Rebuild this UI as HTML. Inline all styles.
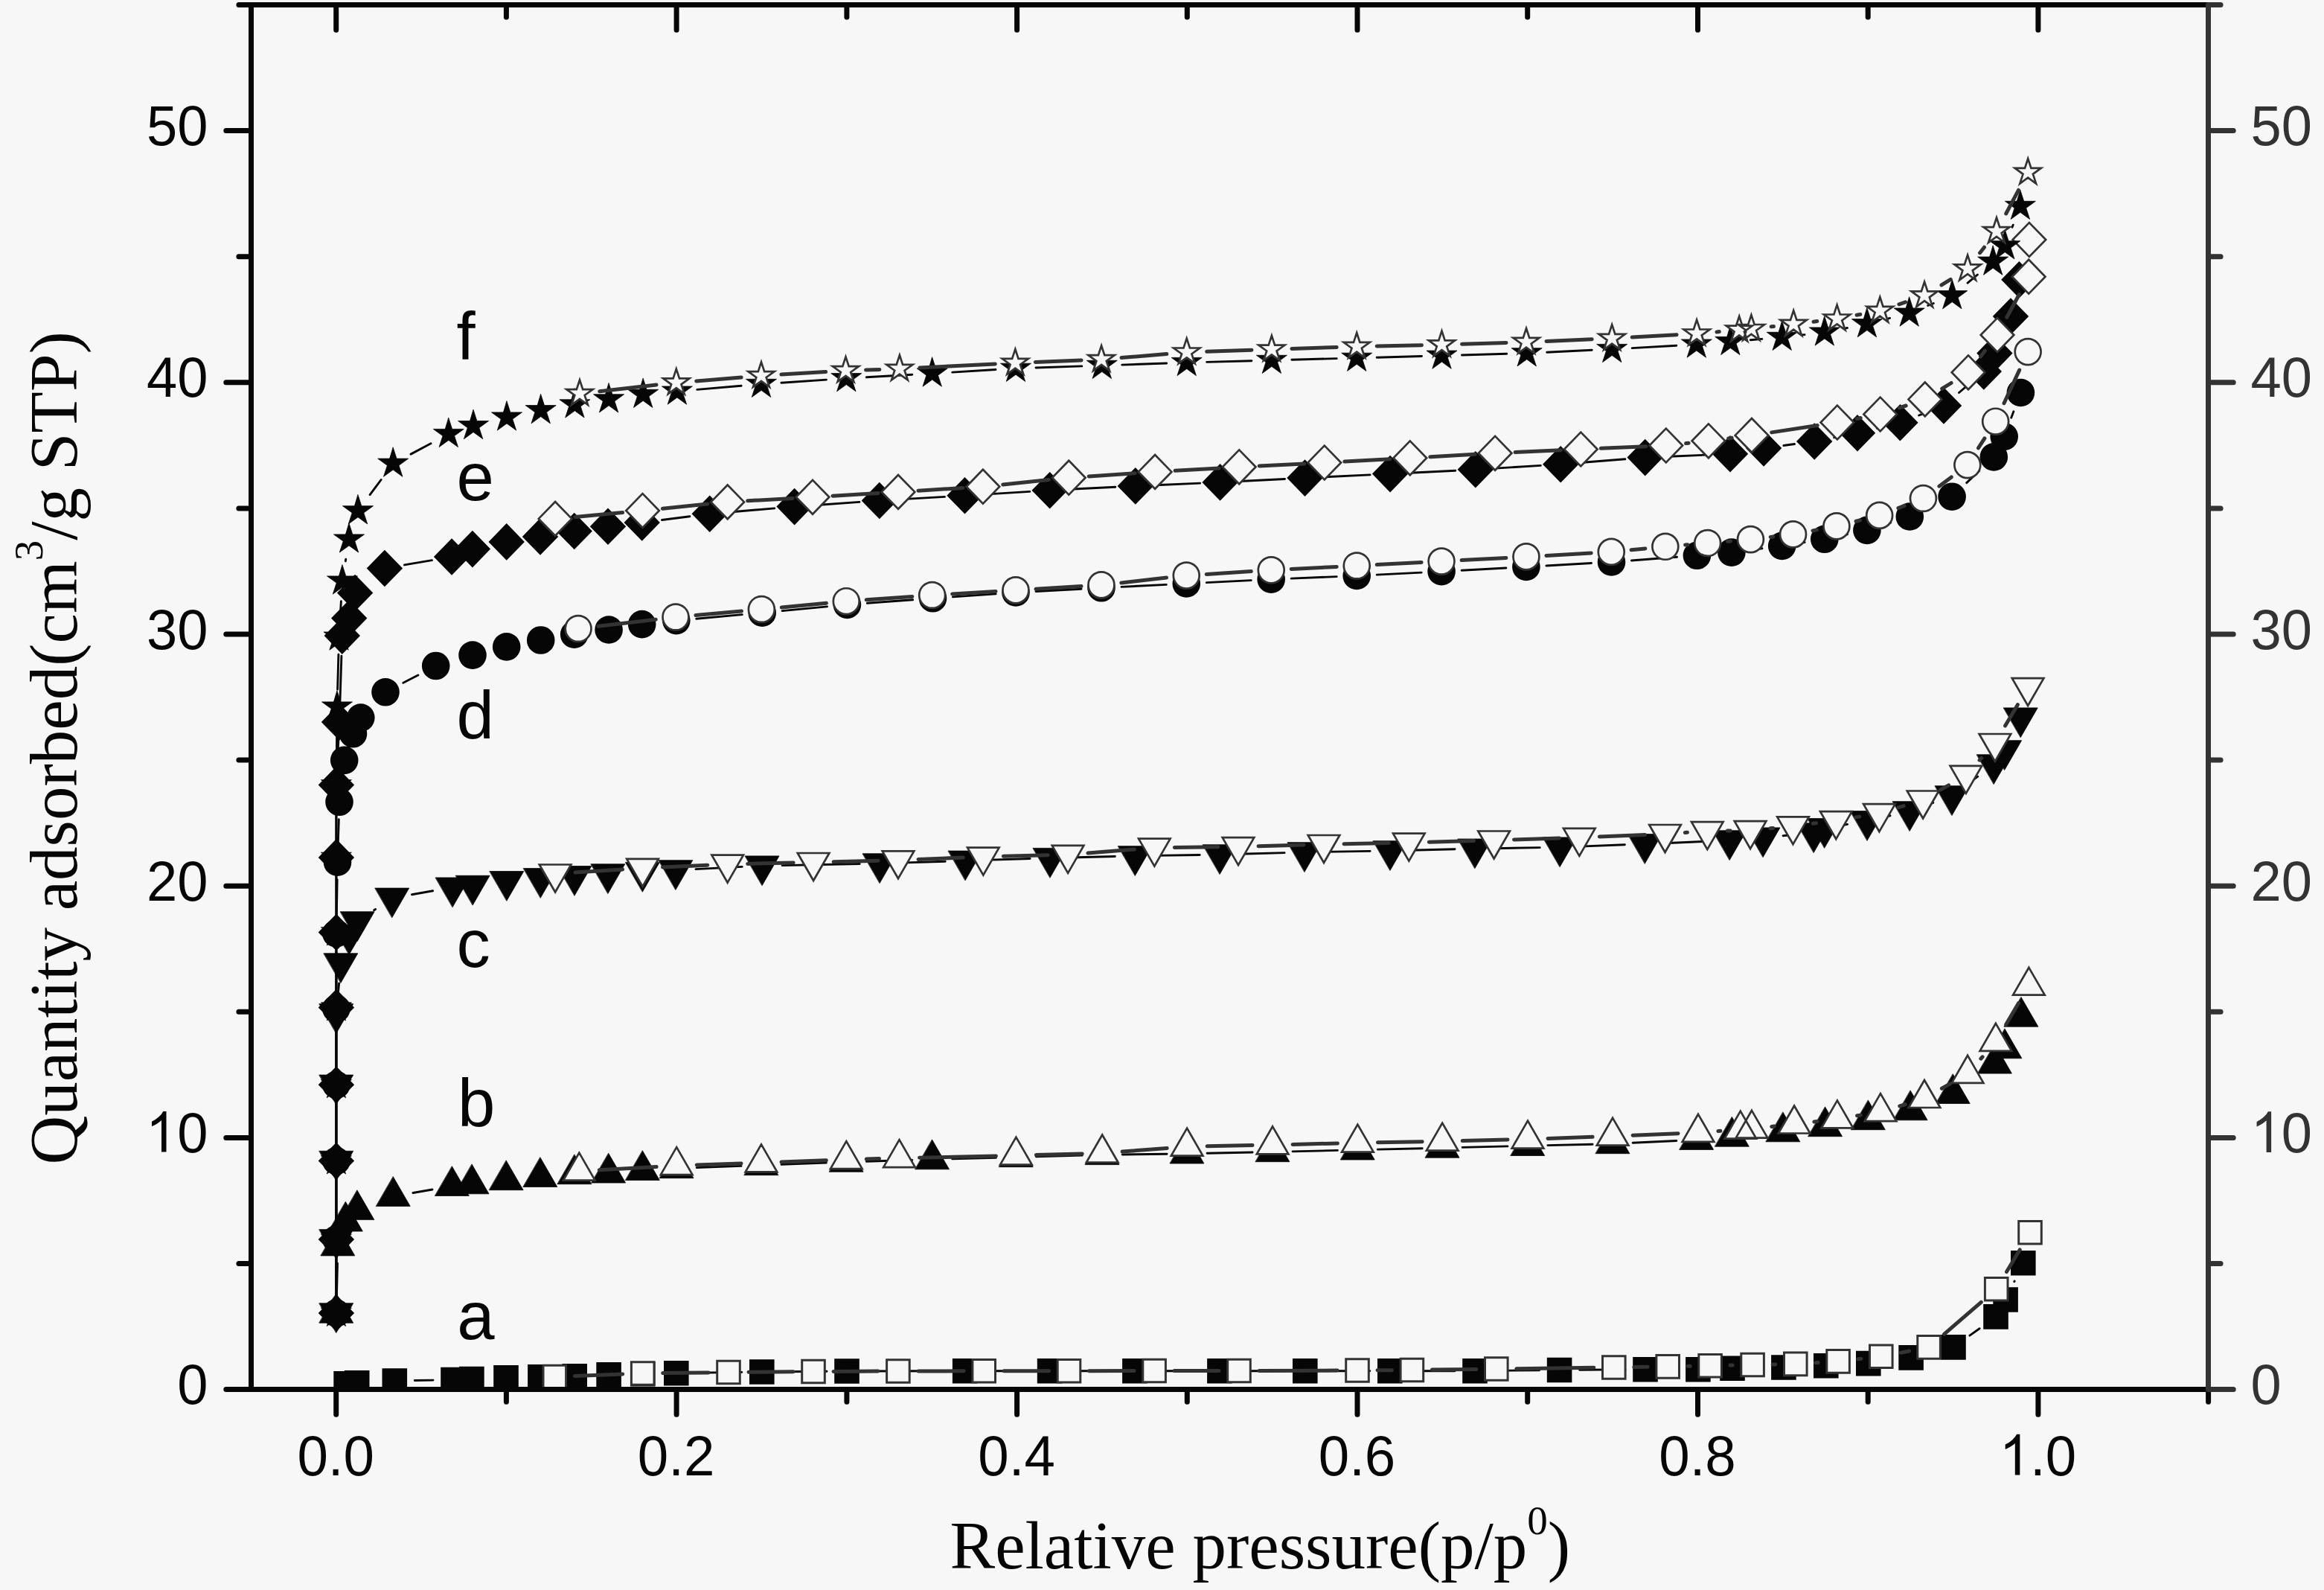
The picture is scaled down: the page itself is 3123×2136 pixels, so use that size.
<!DOCTYPE html>
<html><head><meta charset="utf-8"><title>Adsorption isotherms</title>
<style>html,body{margin:0;padding:0;background:#f7f7f7;}svg{display:block;}</style></head>
<body>
<svg width="3123" height="2136" viewBox="0 0 3123 2136">
<rect width="3123" height="2136" fill="#f7f7f7"/>
<defs><clipPath id="pc"><rect x="337.5" y="6.5" width="2630.0" height="1860.1"/></clipPath></defs>
<g clip-path="url(#pc)" stroke-linecap="round" stroke-linejoin="miter" stroke-miterlimit="10">
<path d="M557.3 1854.5L582 1854.1M935.8 1844.3L996.8 1843.4M1050.8 1842.8L1111 1842.2M1165 1842L1269.7 1841.8M1323.7 1841.8L1383.6 1841.8M1437.6 1841.8L1497.9 1841.8M1551.9 1841.8L1611.9 1841.8M1665.9 1841.8L1726.8 1841.8M1780.8 1841.8L1840.8 1841.8M1894.8 1841.8L1955 1841.7M2009 1841.4L2068.6 1840.8M2122.6 1840.3L2184 1839.9M2238 1839.7L2254.9 1839.7M2355 1837.7L2369.9 1837.5M2423.9 1835.9L2426.8 1835.8M2480.8 1833.2L2483.8 1833.1M2537.6 1828L2541.3 1827.5M2594.3 1817.4L2598.8 1816.4M2646.9 1794.1L2660.1 1784.7M2706.8 1721.7L2707.1 1721.1" stroke="#060606" stroke-width="2.9" fill="none"/>
<path d="M448.3 1842h33.6v33.6h-33.6ZM462.9 1841h33.6v33.6h-33.6ZM513.5 1838.2h33.6v33.6h-33.6ZM592.2 1836.8h33.6v33.6h-33.6ZM617.1 1835.8h33.6v33.6h-33.6ZM663.2 1834.1h33.6v33.6h-33.6ZM709.1 1833.1h33.6v33.6h-33.6ZM755.4 1832h33.6v33.6h-33.6ZM801.3 1829.9h33.6v33.6h-33.6ZM847 1828.9h33.6v33.6h-33.6ZM892 1827.9h33.6v33.6h-33.6ZM1007 1826.2h33.6v33.6h-33.6ZM1121.2 1825.2h33.6v33.6h-33.6ZM1279.9 1825h33.6v33.6h-33.6ZM1393.8 1825h33.6v33.6h-33.6ZM1508.1 1825h33.6v33.6h-33.6ZM1622.1 1825h33.6v33.6h-33.6ZM1737 1825h33.6v33.6h-33.6ZM1851 1825h33.6v33.6h-33.6ZM1965.2 1824.9h33.6v33.6h-33.6ZM2078.8 1823.7h33.6v33.6h-33.6ZM2194.2 1822.9h33.6v33.6h-33.6ZM2265.1 1822.9h33.6v33.6h-33.6ZM2311.2 1821.4h33.6v33.6h-33.6ZM2380.1 1820.2h33.6v33.6h-33.6ZM2437 1817.9h33.6v33.6h-33.6ZM2494 1814.8h33.6v33.6h-33.6ZM2551.3 1807.1h33.6v33.6h-33.6ZM2608.2 1793.1h33.6v33.6h-33.6ZM2665.2 1752.1h33.6v33.6h-33.6ZM2678.3 1729.2h33.6v33.6h-33.6ZM2702 1680h33.6v33.6h-33.6Z" fill="#060606" stroke="#060606" stroke-width="0"/>
<path d="M2714.2 1679L2696.5 1708.5M2662.3 1749.3L2612.5 1792.3M2565.6 1815L2554.3 1817.2M2501 1825.4L2496.9 1825.8M2443.2 1830.5L2439.7 1830.8M2385.8 1832.9L2382.1 1833M2328.1 1834.1L2325.1 1834.1M2271.1 1835.3L2268.2 1835.3M2214.2 1836.3L2195.8 1836.6M2141.8 1837.3L2037.8 1838.7M1983.8 1839.4L1924.4 1840.1M1870.4 1840.7L1851 1840.8M1797 1841.1L1692 1841.4M1638 1841.5L1578.1 1841.5M1524.1 1841.6L1463.5 1841.7M1409.5 1841.8L1349.2 1841.8M1295.2 1841.8L1233.9 1842M1179.9 1842.1L1120 1842.4M1066 1842.7L1006 1843.3M952 1843.9L890.7 1844.6M836.7 1846L772.3 1848.5" stroke="#333333" stroke-width="5.0" fill="none"/>
<path d="M2712.7 1640.5h30.6v30.6h-30.6ZM2667.4 1716.4h30.6v30.6h-30.6ZM2576.8 1794.6h30.6v30.6h-30.6ZM2512.5 1807h30.6v30.6h-30.6ZM2454.8 1813.6h30.6v30.6h-30.6ZM2397.5 1817.1h30.6v30.6h-30.6ZM2339.8 1818.2h30.6v30.6h-30.6ZM2282.8 1819.4h30.6v30.6h-30.6ZM2225.9 1820.6h30.6v30.6h-30.6ZM2153.5 1821.7h30.6v30.6h-30.6ZM1995.5 1823.7h30.6v30.6h-30.6ZM1882.1 1825.2h30.6v30.6h-30.6ZM1808.7 1825.7h30.6v30.6h-30.6ZM1649.7 1826.2h30.6v30.6h-30.6ZM1535.8 1826.2h30.6v30.6h-30.6ZM1421.2 1826.5h30.6v30.6h-30.6ZM1306.9 1826.5h30.6v30.6h-30.6ZM1191.6 1826.7h30.6v30.6h-30.6ZM1077.7 1827.2h30.6v30.6h-30.6ZM963.7 1828.2h30.6v30.6h-30.6ZM848.4 1829.7h30.6v30.6h-30.6ZM730 1834.2h30.6v30.6h-30.6Z" fill="#f7f7f7" stroke="#333333" stroke-width="3.0"/>
<path d="M452.4 1740.5L453.5 1697.2M555 1602.5L580.9 1598M936.2 1568.6L996 1566.4M1050 1564.4L1110.3 1562.1M1164.3 1560.2L1225.7 1558.4M1279.7 1556.9L1338.4 1555.2M1392.4 1553.8L1454.2 1552.1M1508.2 1551L1568.1 1550.2M1622.1 1549.3L1683.1 1548M1737.1 1546.9L1797.4 1545.4M1851.4 1544.1L1911.2 1542.7M1965.2 1541.4L2025.9 1539.9M2079.9 1538.6L2140.1 1537.2M2194.1 1535.2L2252.8 1532.5M2354.4 1524.5L2369.1 1523.1M2422.8 1517.2L2425.9 1516.9M2479.4 1509.3L2483.8 1508.7M2536.8 1498.5L2541 1497.6M2592.5 1481.8L2599.2 1479.1M2646.3 1453.5L2658.7 1444.7" stroke="#060606" stroke-width="2.9" fill="none"/>
<path d="M451.9 1737.7L474.7 1777.2L429.1 1777.2ZM454 1647.4L476.8 1686.9L431.2 1686.9ZM464.5 1614.6L487.3 1654.1L441.7 1654.1ZM480 1599.1L502.8 1638.6L457.2 1638.6ZM528.4 1580.9L551.2 1620.4L505.6 1620.4ZM607.5 1567L630.3 1606.5L584.7 1606.5ZM634.2 1564.2L657 1603.8L611.4 1603.8ZM680.3 1559.2L703.1 1598.7L657.5 1598.7ZM726 1555L748.8 1594.5L703.2 1594.5ZM772 1551.2L794.8 1590.7L749.2 1590.7ZM817.8 1549.5L840.6 1589L795 1589ZM863.5 1546L886.3 1585.5L840.7 1585.5ZM909.2 1543.2L932 1582.7L886.4 1582.7ZM1023 1539.2L1045.8 1578.7L1000.2 1578.7ZM1137.3 1534.7L1160.1 1574.2L1114.5 1574.2ZM1252.7 1531.2L1275.5 1570.8L1229.9 1570.8ZM1365.4 1528.2L1388.2 1567.7L1342.6 1567.7ZM1481.2 1525.1L1504 1564.6L1458.4 1564.6ZM1595.1 1523.5L1617.9 1563L1572.3 1563ZM1710.1 1521.2L1732.9 1560.7L1687.3 1560.7ZM1824.4 1518.5L1847.2 1558L1801.6 1558ZM1938.2 1515.7L1961 1555.2L1915.4 1555.2ZM2052.9 1513L2075.7 1552.5L2030.1 1552.5ZM2167.1 1510.2L2189.9 1549.7L2144.3 1549.7ZM2279.8 1504.9L2302.6 1544.4L2257 1544.4ZM2327.5 1500.7L2350.3 1540.2L2304.7 1540.2ZM2396 1494.2L2418.8 1533.8L2373.2 1533.8ZM2452.7 1487.2L2475.5 1526.7L2429.9 1526.7ZM2510.5 1478.2L2533.3 1517.7L2487.7 1517.7ZM2567.3 1465.2L2590.1 1504.8L2544.5 1504.8ZM2624.4 1443L2647.2 1482.5L2601.6 1482.5ZM2680.6 1402.6L2703.4 1442.1L2657.8 1442.1ZM2694.1 1382.2L2716.9 1421.8L2671.3 1421.8ZM2716.1 1339.7L2738.9 1379.2L2693.3 1379.2Z" fill="#060606" stroke="#060606" stroke-width="0.8"/>
<path d="M2712.6 1347.6L2695.7 1376.3M2664.1 1419.8L2661.9 1422.2M2620.7 1455.9L2609.4 1462.3M2560.2 1483.6L2552.8 1485.9M2500.3 1498.1L2495.6 1498.8M2442.1 1506.4L2437.9 1506.9M2384.3 1513.1L2380.8 1513.5M2311.9 1519.3L2308.9 1519.5M2255 1522.7L2194.1 1525.2M2140.1 1527.3L2080 1529.4M2026 1531L1965.2 1532.6M1911.2 1533.8L1851.4 1534.8M1797.4 1535.9L1737.1 1537.4M1683.1 1538.5L1622.1 1539.8M1568.2 1542.4L1508.1 1547.1M1454.2 1549.9L1392.4 1551.6M1338.4 1552.9L1235.5 1555.3M1181.5 1556.6L1164.3 1557.1M1110.3 1558.8L1050 1561.1M996 1563L936.2 1565M882.2 1567.4L805.3 1571.8" stroke="#333333" stroke-width="5.0" fill="none"/>
<path d="M2726.4 1299.8L2747.7 1336.7L2705.1 1336.7ZM2681.9 1374.8L2703.2 1411.8L2660.6 1411.8ZM2644.1 1417.8L2665.4 1454.8L2622.8 1454.8ZM2586 1451L2607.3 1488L2564.7 1488ZM2527 1469.1L2548.3 1506.1L2505.7 1506.1ZM2468.9 1478.4L2490.2 1515.4L2447.6 1515.4ZM2411.1 1485.5L2432.4 1522.5L2389.8 1522.5ZM2354 1491.8L2375.3 1528.7L2332.7 1528.7ZM2338.8 1492.6L2360.1 1529.6L2317.5 1529.6ZM2282 1496.8L2303.3 1533.8L2260.7 1533.8ZM2167.1 1501.8L2188.4 1538.7L2145.8 1538.7ZM2053 1505.6L2074.3 1542.6L2031.7 1542.6ZM1938.2 1508.6L1959.5 1545.6L1916.9 1545.6ZM1824.4 1510.6L1845.7 1547.6L1803.1 1547.6ZM1710.1 1513.3L1731.4 1550.3L1688.8 1550.3ZM1595.1 1515.6L1616.4 1552.6L1573.8 1552.6ZM1481.2 1524.5L1502.5 1561.5L1459.9 1561.5ZM1365.4 1527.6L1386.7 1564.6L1344.1 1564.6ZM1208.5 1531.2L1229.8 1568.2L1187.2 1568.2ZM1137.3 1533.1L1158.6 1570.1L1116 1570.1ZM1023 1537.4L1044.3 1574.4L1001.7 1574.4ZM909.2 1541.2L930.5 1578.2L887.9 1578.2ZM778.3 1548.6L799.6 1585.6L757 1585.6Z" fill="#f7f7f7" stroke="#333333" stroke-width="2.7"/>
<path d="M451.9 1740.5L451.9 1688.4M451.9 1641.4L451.9 1583M451.9 1536L451.9 1480.8M451.9 1433.8L451.9 1385.3M454.3 1334.9L455.6 1320.9M502.6 1222.8L504.6 1221.5M553.5 1201.7L581.6 1196.8M935 1167.6L997.2 1164.4M1051.2 1162.6L1155.2 1160.5M1209.2 1159.1L1270.2 1157.2M1324.2 1155.4L1384.1 1153.5M1438.1 1152L1498.4 1150.5M1552.4 1149.4L1612.2 1148.5M1666.2 1147.3L1726.1 1145.6M1780.1 1144.4L1841.1 1143.4M1895.1 1142.3L1955 1140.8M2009 1139.7L2069.2 1138.6M2123.2 1137.1L2183.4 1134.8M2237.4 1132.7L2297.3 1130.1M2396.1 1122.7L2410.4 1121.4M2478.4 1108.2L2482.6 1107.4M2535.5 1096.9L2540 1095.8M2591.6 1080.6L2597.8 1078.3M2644.7 1052.8L2657.7 1043.2" stroke="#060606" stroke-width="2.9" fill="none"/>
<path d="M451.9 1790.3L474.7 1750.8L429.1 1750.8ZM451.9 1691.2L474.7 1651.7L429.1 1651.7ZM451.9 1585.8L474.7 1546.3L429.1 1546.3ZM451.9 1483.6L474.7 1444.1L429.1 1444.1ZM451.9 1388.1L474.7 1348.6L429.1 1348.6ZM458 1320.3L480.8 1280.8L435.2 1280.8ZM469.2 1282.3L492 1242.8L446.4 1242.8ZM480.3 1264.3L503.1 1224.8L457.5 1224.8ZM526.9 1232.6L549.7 1193.1L504.1 1193.1ZM608.2 1218.5L631 1179L585.4 1179ZM635.3 1215.8L658.1 1176.3L612.5 1176.3ZM681 1210L703.8 1170.5L658.2 1170.5ZM726.4 1206.1L749.2 1166.6L703.6 1166.6ZM772.1 1203L794.9 1163.5L749.3 1163.5ZM817 1200.3L839.8 1160.8L794.2 1160.8ZM863.5 1197.9L886.3 1158.4L840.7 1158.4ZM908 1195.2L930.8 1155.7L885.2 1155.7ZM1024.2 1189.4L1047 1149.9L1001.4 1149.9ZM1182.2 1186.3L1205 1146.8L1159.4 1146.8ZM1297.2 1182.6L1320 1143.1L1274.4 1143.1ZM1411.1 1178.9L1433.9 1139.4L1388.3 1139.4ZM1525.4 1176.2L1548.2 1136.7L1502.6 1136.7ZM1639.2 1174.3L1662 1134.8L1616.4 1134.8ZM1753.1 1171.2L1775.9 1131.7L1730.3 1131.7ZM1868.1 1169.2L1890.9 1129.7L1845.3 1129.7ZM1982 1166.5L2004.8 1127L1959.2 1127ZM2096.2 1164.4L2119 1124.9L2073.4 1124.9ZM2210.4 1160.1L2233.2 1120.6L2187.6 1120.6ZM2324.3 1155.3L2347.1 1115.8L2301.5 1115.8ZM2369.2 1151.4L2392 1111.9L2346.4 1111.9ZM2437.3 1145.3L2460.1 1105.8L2414.5 1105.8ZM2451.8 1139.1L2474.6 1099.6L2429 1099.6ZM2509.2 1129.1L2532 1089.6L2486.4 1089.6ZM2566.3 1116.2L2589.1 1076.7L2543.5 1076.7ZM2623.1 1095.3L2645.9 1055.8L2600.3 1055.8ZM2679.3 1053.3L2702.1 1013.8L2656.5 1013.8ZM2693.8 1034.3L2716.6 994.8L2671 994.8ZM2715.4 990.5L2738.2 950.9L2692.6 950.9Z" fill="#060606" stroke="#060606" stroke-width="0.8"/>
<path d="M2711.4 946.7L2694.6 975M2662.7 1018.3L2660.1 1021.2M2618.6 1054.8L2607.4 1061.2M2558.2 1082.6L2551.3 1084.7M2498.8 1097.1L2493.9 1097.9M2440.5 1105.8L2436.3 1106.3M2382.6 1112.4L2379 1112.7M2325.1 1115.9L2321.3 1116M2267.4 1118.2L2264.4 1118.5M2210.5 1121.4L2149.3 1124M2095.3 1126L2034.6 1127.9M1980.6 1129.5L1920.3 1131.2M1866.3 1132.5L1806 1133.7M1752 1135L1691 1136.7M1637 1137.8L1578.3 1138.5M1524.4 1141.1L1462 1146M1408.1 1148.8L1348.3 1150.3M1294.3 1152L1234 1154.5M1180 1156.2L1120.1 1157.7M1066.1 1158.9L1004.7 1160.4M950.7 1162.2L890.5 1164.9M836.6 1167.9L773 1172" stroke="#333333" stroke-width="5.0" fill="none"/>
<path d="M2725.1 948L2746.4 911.1L2703.8 911.1ZM2680.9 1022.9L2702.2 986L2659.6 986ZM2641.9 1065.9L2663.2 1028.9L2620.6 1028.9ZM2584.1 1099.5L2605.4 1062.5L2562.8 1062.5ZM2525.4 1117.2L2546.7 1080.2L2504.1 1080.2ZM2467.3 1127.2L2488.6 1090.2L2446 1090.2ZM2409.5 1134.2L2430.8 1097.3L2388.2 1097.3ZM2352.1 1140.2L2373.4 1103.2L2330.8 1103.2ZM2294.3 1141.1L2315.6 1104.1L2273 1104.1ZM2237.5 1145L2258.8 1108L2216.2 1108ZM2122.3 1149.8L2143.6 1112.8L2101 1112.8ZM2007.6 1153.5L2028.9 1116.5L1986.3 1116.5ZM1893.3 1156.6L1914.6 1119.6L1872 1119.6ZM1779 1159L1800.3 1122L1757.7 1122ZM1664 1162.1L1685.3 1125.1L1642.7 1125.1ZM1551.3 1163.6L1572.6 1126.6L1530 1126.6ZM1435.1 1172.9L1456.4 1135.9L1413.8 1135.9ZM1321.3 1175.6L1342.6 1138.6L1300 1138.6ZM1207 1180.2L1228.3 1143.3L1185.7 1143.3ZM1093.1 1183L1114.4 1146L1071.8 1146ZM977.7 1185.7L999 1148.7L956.4 1148.7ZM863.5 1190.8L884.8 1153.8L842.2 1153.8ZM746.1 1198.5L767.4 1161.5L724.8 1161.5Z" fill="#f7f7f7" stroke="#333333" stroke-width="2.7"/>
<path d="M451.9 1740.5L451.9 1688.4M451.9 1641.4L451.9 1583M451.9 1536L451.9 1480.8M451.9 1433.8L451.9 1378.5M451.9 1331.5L451.9 1277.5M452.3 1230.5L453.1 1181.7M454.2 1134.7L455.3 1100.8M459.2 1050.5L459.5 1048.2M541.9 917.3L561.8 907M935.7 831.2L997.3 825.6M1051.1 820.6L1111.5 814.9M1165.3 810.3L1226.6 805.8M1280.4 801.9L1338.1 797.9M1392 794.5L1453 791.3M1507 788.4L1567.3 785.4M1621.3 782.6L1681.2 779.6M1735.2 777.1L1796.2 774.6M1850.2 772.1L1910.1 769.1M1964.1 766.2L2023.9 763M2077.9 760L2138.5 756.5M2192.4 753L2253.5 748.3M2353.7 738.7L2367.9 736.8M2421.4 729.2L2425.1 728.5M2478.2 718.8L2482.5 717.9M2534.6 704.2L2540.6 702.2M2590.7 682.5L2598.7 678.7M2642.7 648.6L2659.7 632.5M2702.7 561.2L2705.9 552.8" stroke="#060606" stroke-width="2.9" fill="none"/>
<path d="M433.1 1764a18.8 18.8 0 1 0 37.6 0a18.8 18.8 0 1 0 -37.6 0ZM433.1 1664.9a18.8 18.8 0 1 0 37.6 0a18.8 18.8 0 1 0 -37.6 0ZM433.1 1559.5a18.8 18.8 0 1 0 37.6 0a18.8 18.8 0 1 0 -37.6 0ZM433.1 1457.3a18.8 18.8 0 1 0 37.6 0a18.8 18.8 0 1 0 -37.6 0ZM433.1 1355a18.8 18.8 0 1 0 37.6 0a18.8 18.8 0 1 0 -37.6 0ZM433.1 1254a18.8 18.8 0 1 0 37.6 0a18.8 18.8 0 1 0 -37.6 0ZM434.7 1158.2a18.8 18.8 0 1 0 37.6 0a18.8 18.8 0 1 0 -37.6 0ZM437.2 1077.3a18.8 18.8 0 1 0 37.6 0a18.8 18.8 0 1 0 -37.6 0ZM443.9 1021.4a18.8 18.8 0 1 0 37.6 0a18.8 18.8 0 1 0 -37.6 0ZM455.7 985.8a18.8 18.8 0 1 0 37.6 0a18.8 18.8 0 1 0 -37.6 0ZM466 964.1a18.8 18.8 0 1 0 37.6 0a18.8 18.8 0 1 0 -37.6 0ZM499.2 929.8a18.8 18.8 0 1 0 37.6 0a18.8 18.8 0 1 0 -37.6 0ZM566.9 894.5a18.8 18.8 0 1 0 37.6 0a18.8 18.8 0 1 0 -37.6 0ZM616.2 880.1a18.8 18.8 0 1 0 37.6 0a18.8 18.8 0 1 0 -37.6 0ZM661.9 868.9a18.8 18.8 0 1 0 37.6 0a18.8 18.8 0 1 0 -37.6 0ZM707.9 860a18.8 18.8 0 1 0 37.6 0a18.8 18.8 0 1 0 -37.6 0ZM752.9 852.2a18.8 18.8 0 1 0 37.6 0a18.8 18.8 0 1 0 -37.6 0ZM799.3 846a18.8 18.8 0 1 0 37.6 0a18.8 18.8 0 1 0 -37.6 0ZM843.9 838.7a18.8 18.8 0 1 0 37.6 0a18.8 18.8 0 1 0 -37.6 0ZM890 833.6a18.8 18.8 0 1 0 37.6 0a18.8 18.8 0 1 0 -37.6 0ZM1005.4 823.2a18.8 18.8 0 1 0 37.6 0a18.8 18.8 0 1 0 -37.6 0ZM1119.6 812.3a18.8 18.8 0 1 0 37.6 0a18.8 18.8 0 1 0 -37.6 0ZM1234.7 803.8a18.8 18.8 0 1 0 37.6 0a18.8 18.8 0 1 0 -37.6 0ZM1346.2 796a18.8 18.8 0 1 0 37.6 0a18.8 18.8 0 1 0 -37.6 0ZM1461.2 789.8a18.8 18.8 0 1 0 37.6 0a18.8 18.8 0 1 0 -37.6 0ZM1575.5 784a18.8 18.8 0 1 0 37.6 0a18.8 18.8 0 1 0 -37.6 0ZM1689.4 778.2a18.8 18.8 0 1 0 37.6 0a18.8 18.8 0 1 0 -37.6 0ZM1804.4 773.5a18.8 18.8 0 1 0 37.6 0a18.8 18.8 0 1 0 -37.6 0ZM1918.3 767.7a18.8 18.8 0 1 0 37.6 0a18.8 18.8 0 1 0 -37.6 0ZM2032.1 761.5a18.8 18.8 0 1 0 37.6 0a18.8 18.8 0 1 0 -37.6 0ZM2146.7 755a18.8 18.8 0 1 0 37.6 0a18.8 18.8 0 1 0 -37.6 0ZM2261.6 746.3a18.8 18.8 0 1 0 37.6 0a18.8 18.8 0 1 0 -37.6 0ZM2308.1 742.1a18.8 18.8 0 1 0 37.6 0a18.8 18.8 0 1 0 -37.6 0ZM2375.9 733.4a18.8 18.8 0 1 0 37.6 0a18.8 18.8 0 1 0 -37.6 0ZM2433 724.3a18.8 18.8 0 1 0 37.6 0a18.8 18.8 0 1 0 -37.6 0ZM2490.1 712.4a18.8 18.8 0 1 0 37.6 0a18.8 18.8 0 1 0 -37.6 0ZM2547.5 694a18.8 18.8 0 1 0 37.6 0a18.8 18.8 0 1 0 -37.6 0ZM2604.3 667.2a18.8 18.8 0 1 0 37.6 0a18.8 18.8 0 1 0 -37.6 0ZM2660.5 613.9a18.8 18.8 0 1 0 37.6 0a18.8 18.8 0 1 0 -37.6 0ZM2674.4 586.5a18.8 18.8 0 1 0 37.6 0a18.8 18.8 0 1 0 -37.6 0ZM2696.6 527.5a18.8 18.8 0 1 0 37.6 0a18.8 18.8 0 1 0 -37.6 0Z" fill="#060606" stroke="#060606" stroke-width="0"/>
<path d="M2713.7 497.1L2693 541.7M2666.9 588.9L2658.5 601.9M2622.3 640.9L2605.9 653.2M2559.2 679.3L2550.9 682.6M2499.5 699L2494.1 700.3M2441.4 711.9L2436 712.9M2382.7 721L2379.2 721.5M2325.5 726.9L2321.5 727.2M2267.7 731.8L2264.7 732M2210.9 736.9L2192.1 738.8M2138.2 742.9L2077.9 746.4M2023.9 749.4L1964.1 752.6M1910.1 755.5L1850.2 758.6M1796.2 761.4L1735.2 764.4M1681.3 767.5L1621.2 771.4M1567.5 776.1L1506.8 782.9M1453 787.5L1392 791.3M1338 794.5L1279.7 797.9M1225.8 801.4L1164.2 805.8M1110.4 810.2L1050.3 816M996.5 820.9L934.9 826.6M881.2 832.2L803.9 841.3" stroke="#333333" stroke-width="5.0" fill="none"/>
<path d="M2707.7 472.6a17.4 17.4 0 1 0 34.9 0a17.4 17.4 0 1 0 -34.9 0ZM2664.2 566.2a17.4 17.4 0 1 0 34.9 0a17.4 17.4 0 1 0 -34.9 0ZM2626.4 624.6a17.4 17.4 0 1 0 34.9 0a17.4 17.4 0 1 0 -34.9 0ZM2567 669.5a17.4 17.4 0 1 0 34.9 0a17.4 17.4 0 1 0 -34.9 0ZM2508.2 692.4a17.4 17.4 0 1 0 34.9 0a17.4 17.4 0 1 0 -34.9 0ZM2450.5 706.9a17.4 17.4 0 1 0 34.9 0a17.4 17.4 0 1 0 -34.9 0ZM2392.1 717.9a17.4 17.4 0 1 0 34.9 0a17.4 17.4 0 1 0 -34.9 0ZM2335 724.6a17.4 17.4 0 1 0 34.9 0a17.4 17.4 0 1 0 -34.9 0ZM2277.2 729.5a17.4 17.4 0 1 0 34.9 0a17.4 17.4 0 1 0 -34.9 0ZM2220.4 734.3a17.4 17.4 0 1 0 34.9 0a17.4 17.4 0 1 0 -34.9 0ZM2147.8 741.4a17.4 17.4 0 1 0 34.9 0a17.4 17.4 0 1 0 -34.9 0ZM2033.5 747.9a17.4 17.4 0 1 0 34.9 0a17.4 17.4 0 1 0 -34.9 0ZM1919.6 754.1a17.4 17.4 0 1 0 34.9 0a17.4 17.4 0 1 0 -34.9 0ZM1805.8 760a17.4 17.4 0 1 0 34.9 0a17.4 17.4 0 1 0 -34.9 0ZM1690.8 765.8a17.4 17.4 0 1 0 34.9 0a17.4 17.4 0 1 0 -34.9 0ZM1576.8 773.1a17.4 17.4 0 1 0 34.9 0a17.4 17.4 0 1 0 -34.9 0ZM1462.5 785.9a17.4 17.4 0 1 0 34.9 0a17.4 17.4 0 1 0 -34.9 0ZM1347.5 792.9a17.4 17.4 0 1 0 34.9 0a17.4 17.4 0 1 0 -34.9 0ZM1235.2 799.5a17.4 17.4 0 1 0 34.9 0a17.4 17.4 0 1 0 -34.9 0ZM1119.8 807.7a17.4 17.4 0 1 0 34.9 0a17.4 17.4 0 1 0 -34.9 0ZM1005.9 818.5a17.4 17.4 0 1 0 34.9 0a17.4 17.4 0 1 0 -34.9 0ZM890.5 829a17.4 17.4 0 1 0 34.9 0a17.4 17.4 0 1 0 -34.9 0ZM759.6 844.5a17.4 17.4 0 1 0 34.9 0a17.4 17.4 0 1 0 -34.9 0Z" fill="#f7f7f7" stroke="#333333" stroke-width="2.7"/>
<path d="M451.9 1740.5L451.9 1688.4M451.9 1641.4L451.9 1583M451.9 1536L451.9 1480.8M451.9 1433.8L451.9 1377M451.9 1330L451.9 1276M451.9 1229L451.9 1175.4M451.9 1128.4L451.9 1077.9M453 1030.9L454.9 993.5M456.9 943L458.9 881.1M543.5 758.9L580.5 752.6M889.5 698.5L926.9 693.7M980.6 688L1040.7 682.9M1094.5 678.7L1154.9 674.4M1208.8 670.9L1269.5 667.4M1323.4 664.1L1383.8 660.4M1437.7 657.3L1498.8 654.3M1552.8 651.7L1612.6 649.1M1666.6 646.5L1726.5 643.5M1780.5 640.8L1841.1 637.9M1895.1 635.2L1955.8 632.2M2009.7 629.1L2070.3 625.4M2124.1 621.5L2183.8 616.8M2237.7 613.5L2298 610.9M2396.9 598.5L2411.4 596.5M2464.7 587.8L2469.5 586.9M2522.2 575.3L2527.2 574.2M2578.6 558L2586.8 554.8M2632.5 527.5L2645.3 516.5M2691.2 449.8L2691.2 449.8" stroke="#060606" stroke-width="2.9" fill="none"/>
<path d="M451.9 1739.2L476.1 1764L451.9 1788.8L427.7 1764ZM451.9 1640.1L476.1 1664.9L451.9 1689.7L427.7 1664.9ZM451.9 1534.7L476.1 1559.5L451.9 1584.3L427.7 1559.5ZM451.9 1432.5L476.1 1457.3L451.9 1482.1L427.7 1457.3ZM451.9 1328.7L476.1 1353.5L451.9 1378.3L427.7 1353.5ZM451.9 1227.7L476.1 1252.5L451.9 1277.3L427.7 1252.5ZM451.9 1127.1L476.1 1151.9L451.9 1176.7L427.7 1151.9ZM451.9 1029.6L476.1 1054.4L451.9 1079.2L427.7 1054.4ZM456 945.2L480.2 970L456 994.8L431.8 970ZM459.8 829.3L484 854.1L459.8 878.9L435.6 854.1ZM469.2 805.7L493.4 830.5L469.2 855.3L445 830.5ZM477.1 771.7L501.3 796.5L477.1 821.3L452.9 796.5ZM516.9 738.7L541.1 763.5L516.9 788.3L492.7 763.5ZM607.1 723.2L631.3 748L607.1 772.8L582.9 748ZM634.9 712.8L659.1 737.6L634.9 762.4L610.7 737.6ZM680.7 703.1L704.9 727.9L680.7 752.7L656.5 727.9ZM726 696.1L750.2 720.9L726 745.7L701.8 720.9ZM771.7 688.7L795.9 713.5L771.7 738.3L747.5 713.5ZM817 682.5L841.2 707.3L817 732.1L792.8 707.3ZM862.7 677.1L886.9 701.9L862.7 726.7L838.5 701.9ZM953.7 665.5L977.9 690.3L953.7 715.1L929.5 690.3ZM1067.6 655.8L1091.8 680.6L1067.6 705.4L1043.4 680.6ZM1181.8 647.7L1206 672.5L1181.8 697.3L1157.6 672.5ZM1296.5 641L1320.7 665.8L1296.5 690.6L1272.3 665.8ZM1410.7 633.9L1434.9 658.7L1410.7 683.5L1386.5 658.7ZM1525.8 628.1L1550 652.9L1525.8 677.7L1501.6 652.9ZM1639.6 623.1L1663.8 647.9L1639.6 672.7L1615.4 647.9ZM1753.5 617.3L1777.7 642.1L1753.5 666.9L1729.3 642.1ZM1868.1 611.8L1892.3 636.6L1868.1 661.4L1843.9 636.6ZM1982.8 606L2007 630.8L1982.8 655.6L1958.6 630.8ZM2097.2 598.9L2121.4 623.7L2097.2 648.5L2073 623.7ZM2210.7 589.8L2234.9 614.6L2210.7 639.4L2186.5 614.6ZM2325 585L2349.2 609.8L2325 634.6L2300.8 609.8ZM2370.1 577.2L2394.3 602L2370.1 626.8L2345.9 602ZM2438.2 568.2L2462.4 593L2438.2 617.8L2414 593ZM2496 556.9L2520.2 581.7L2496 606.5L2471.8 581.7ZM2553.4 543L2577.6 567.8L2553.4 592.6L2529.2 567.8ZM2612 520.2L2636.2 545L2612 569.8L2587.8 545ZM2665.8 474.2L2690 499L2665.8 523.8L2641.6 499ZM2680.4 449.8L2704.6 474.6L2680.4 499.4L2656.2 474.6ZM2702 400.2L2726.2 425L2702 449.8L2677.8 425ZM2713.4 351L2737.6 375.8L2713.4 400.6L2689.2 375.8Z" fill="#060606" stroke="#060606" stroke-width="0"/>
<path d="M2713.4 395.5L2696.8 426.2M2667.5 471.3L2661.5 479M2622.1 514.5L2609.7 522.2M2561.2 545L2552.3 547.9M2500.2 561.5L2495.4 562.5M2442.2 571.5L2380.7 580.9M2327.2 588.3L2322.7 588.9M2269.1 595.2L2265.6 595.6M2211.8 599.7L2151.3 602.3M2097.3 604.7L2036.1 607.6M1982.1 610.3L1921.8 613.8M1867.8 616.8L1806.8 620M1752.8 622.9L1692.2 625.9M1638.2 628.9L1579.1 632.3M1525.2 635.7L1463.2 639.9M1409.4 644.5L1347.8 650.9M1294 655.4L1233.9 659.2M1180 662.5L1119 666.2M1065 669.4L1004.7 672.8M950.8 677.1L890.4 683.3M836.6 688.5L773 694.4" stroke="#333333" stroke-width="5.0" fill="none"/>
<path d="M2726.9 299.1L2749.2 322L2726.9 344.9L2704.6 322ZM2726.2 348.8L2748.5 371.7L2726.2 394.6L2703.9 371.7ZM2684 427.1L2706.3 450L2684 472.9L2661.7 450ZM2645 477.4L2667.3 500.3L2645 523.2L2622.7 500.3ZM2586.8 513.5L2609.1 536.4L2586.8 559.3L2564.5 536.4ZM2526.7 533.6L2549 556.5L2526.7 579.4L2504.4 556.5ZM2468.9 544.6L2491.2 567.5L2468.9 590.4L2446.6 567.5ZM2354 562L2376.3 584.9L2354 607.8L2331.7 584.9ZM2295.9 569.4L2318.2 592.3L2295.9 615.2L2273.6 592.3ZM2238.8 575.6L2261.1 598.5L2238.8 621.4L2216.5 598.5ZM2124.3 580.6L2146.6 603.5L2124.3 626.4L2102 603.5ZM2009.1 585.9L2031.4 608.8L2009.1 631.7L1986.8 608.8ZM1894.8 592.4L1917.1 615.3L1894.8 638.2L1872.5 615.3ZM1779.8 598.6L1802.1 621.5L1779.8 644.4L1757.5 621.5ZM1665.2 604.4L1687.5 627.3L1665.2 650.2L1642.9 627.3ZM1552.1 611L1574.4 633.9L1552.1 656.8L1529.8 633.9ZM1436.3 618.8L1458.6 641.7L1436.3 664.6L1414 641.7ZM1320.9 630.8L1343.2 653.7L1320.9 676.6L1298.6 653.7ZM1207 638L1229.3 660.9L1207 683.8L1184.7 660.9ZM1092 644.9L1114.3 667.8L1092 690.7L1069.7 667.8ZM977.7 651.5L1000 674.4L977.7 697.3L955.4 674.4ZM863.5 663.1L885.8 686L863.5 708.9L841.2 686ZM746.1 674L768.4 696.9L746.1 719.8L723.8 696.9Z" fill="#f7f7f7" stroke="#333333" stroke-width="2.7"/>
<path d="M451.9 1740.5L451.9 1688.4M451.9 1641.4L451.9 1583M451.9 1536L451.9 1480.8M451.9 1433.8L451.9 1377M451.9 1330L451.9 1276M451.9 1229L451.9 1175.4M451.9 1128.4L451.9 1077.9M452.1 1030.9L452.8 973.1M453.6 926.1L454.9 879.2M457.1 828.7L458.4 807.6M464.3 753.9L464.7 751.3M497.1 664.7L512.1 644.5M552 610.1L579 595.8M936.8 523.4L996.1 518.3M1049.9 514.2L1110.4 510.1M1164.3 506.8L1225.7 503.2M1279.7 500.1L1338 496.5M1392 494L1453.8 491.9M1507.8 490.1L1567.7 488M1621.7 486.4L1681.9 484.7M1735.9 483.3L1796.2 481.6M1850.2 480.2L1910.5 478.5M1964.5 477L2024.7 475.2M2078.7 473.2L2139.2 470.3M2193.2 467.6L2252.8 464.2M2352.2 456.7L2367.8 455.4M2421.5 450L2425 449.6M2478.3 441.4L2482.4 440.5M2535 428.6L2539.6 427.4M2590.7 410.5L2598.3 407.5M2644.1 380.1L2657.4 369M2704 305.2L2705.2 302.2" stroke="#060606" stroke-width="2.9" fill="none"/>
<path d="M451.9 1742.4L456.7 1757.3L472.4 1757.3L459.7 1766.5L464.6 1781.5L451.9 1772.3L439.2 1781.5L444.1 1766.5L431.4 1757.3L447.1 1757.3ZM451.9 1643.3L456.7 1658.2L472.4 1658.2L459.7 1667.4L464.6 1682.4L451.9 1673.2L439.2 1682.4L444.1 1667.4L431.4 1658.2L447.1 1658.2ZM451.9 1537.9L456.7 1552.8L472.4 1552.8L459.7 1562L464.6 1577L451.9 1567.8L439.2 1577L444.1 1562L431.4 1552.8L447.1 1552.8ZM451.9 1435.7L456.7 1450.6L472.4 1450.6L459.7 1459.8L464.6 1474.8L451.9 1465.6L439.2 1474.8L444.1 1459.8L431.4 1450.6L447.1 1450.6ZM451.9 1331.9L456.7 1346.8L472.4 1346.8L459.7 1356L464.6 1371L451.9 1361.8L439.2 1371L444.1 1356L431.4 1346.8L447.1 1346.8ZM451.9 1230.9L456.7 1245.8L472.4 1245.8L459.7 1255L464.6 1270L451.9 1260.8L439.2 1270L444.1 1255L431.4 1245.8L447.1 1245.8ZM451.9 1130.3L456.7 1145.2L472.4 1145.2L459.7 1154.4L464.6 1169.4L451.9 1160.2L439.2 1169.4L444.1 1154.4L431.4 1145.2L447.1 1145.2ZM451.9 1032.8L456.7 1047.7L472.4 1047.7L459.7 1056.9L464.6 1071.9L451.9 1062.7L439.2 1071.9L444.1 1056.9L431.4 1047.7L447.1 1047.7ZM453 928L457.8 942.9L473.5 942.9L460.8 952.1L465.7 967.1L453 957.9L440.3 967.1L445.2 952.1L432.5 942.9L448.2 942.9ZM455.5 834.1L460.3 849L476 849L463.3 858.2L468.2 873.2L455.5 864L442.8 873.2L447.7 858.2L435 849L450.7 849ZM460 759L464.8 773.9L480.5 773.9L467.8 783.1L472.7 798.1L460 788.9L447.3 798.1L452.2 783.1L439.5 773.9L455.2 773.9ZM469 703L473.8 717.9L489.5 717.9L476.8 727.1L481.7 742.1L469 732.9L456.3 742.1L461.2 727.1L448.5 717.9L464.2 717.9ZM481 664.8L485.8 679.7L501.5 679.7L488.8 688.9L493.7 703.9L481 694.7L468.3 703.9L473.2 688.9L460.5 679.7L476.2 679.7ZM528.2 601.2L533 616.1L548.7 616.1L536 625.3L540.9 640.3L528.2 631.1L515.5 640.3L520.4 625.3L507.7 616.1L523.4 616.1ZM602.8 561.5L607.6 576.4L623.3 576.4L610.6 585.6L615.5 600.6L602.8 591.4L590.1 600.6L595 585.6L582.3 576.4L598 576.4ZM636.1 550.6L640.9 565.5L656.6 565.5L643.9 574.7L648.8 589.7L636.1 580.5L623.4 589.7L628.3 574.7L615.6 565.5L631.3 565.5ZM681 539L685.8 553.9L701.5 553.9L688.8 563.1L693.7 578.1L681 568.9L668.3 578.1L673.2 563.1L660.5 553.9L676.2 553.9ZM726.7 529.7L731.5 544.6L747.2 544.6L734.5 553.8L739.4 568.8L726.7 559.6L714 568.8L718.9 553.8L706.2 544.6L721.9 544.6ZM772.4 521.9L777.2 536.8L792.9 536.8L780.2 546L785.1 561L772.4 551.8L759.7 561L764.6 546L751.9 536.8L767.6 536.8ZM818.1 514.9L822.9 529.8L838.6 529.8L825.9 539L830.8 554L818.1 544.8L805.4 554L810.3 539L797.6 529.8L813.3 529.8ZM864.2 508.4L869 523.3L884.7 523.3L872 532.5L876.9 547.5L864.2 538.3L851.5 547.5L856.4 532.5L843.7 523.3L859.4 523.3ZM909.9 504.1L914.7 519L930.4 519L917.7 528.2L922.6 543.2L909.9 534L897.2 543.2L902.1 528.2L889.4 519L905.1 519ZM1023 494.4L1027.8 509.3L1043.5 509.3L1030.8 518.5L1035.7 533.5L1023 524.3L1010.3 533.5L1015.2 518.5L1002.5 509.3L1018.2 509.3ZM1137.3 486.7L1142.1 501.6L1157.8 501.6L1145.1 510.8L1150 525.8L1137.3 516.6L1124.6 525.8L1129.5 510.8L1116.8 501.6L1132.5 501.6ZM1252.7 480.1L1257.5 495L1273.2 495L1260.5 504.2L1265.4 519.2L1252.7 510L1240 519.2L1244.9 504.2L1232.2 495L1247.9 495ZM1365 473.3L1369.8 488.2L1385.5 488.2L1372.8 497.4L1377.7 512.4L1365 503.2L1352.3 512.4L1357.2 497.4L1344.5 488.2L1360.2 488.2ZM1480.8 469.4L1485.6 484.3L1501.3 484.3L1488.6 493.5L1493.5 508.5L1480.8 499.3L1468.1 508.5L1473 493.5L1460.3 484.3L1476 484.3ZM1594.7 465.5L1599.5 480.4L1615.2 480.4L1602.5 489.6L1607.4 504.6L1594.7 495.4L1582 504.6L1586.9 489.6L1574.2 480.4L1589.9 480.4ZM1708.9 462.4L1713.7 477.3L1729.4 477.3L1716.7 486.5L1721.6 501.5L1708.9 492.3L1696.2 501.5L1701.1 486.5L1688.4 477.3L1704.1 477.3ZM1823.2 459.3L1828 474.2L1843.7 474.2L1831 483.4L1835.9 498.4L1823.2 489.2L1810.5 498.4L1815.4 483.4L1802.7 474.2L1818.4 474.2ZM1937.5 456.2L1942.3 471.1L1958 471.1L1945.3 480.3L1950.2 495.3L1937.5 486.1L1924.8 495.3L1929.7 480.3L1917 471.1L1932.7 471.1ZM2051.7 452.8L2056.5 467.7L2072.2 467.7L2059.5 476.9L2064.4 491.9L2051.7 482.7L2039 491.9L2043.9 476.9L2031.2 467.7L2046.9 467.7ZM2166.2 447.5L2171 462.4L2186.7 462.4L2174 471.6L2178.9 486.6L2166.2 477.4L2153.5 486.6L2158.4 471.6L2145.7 462.4L2161.4 462.4ZM2279.8 441.1L2284.6 456L2300.3 456L2287.6 465.2L2292.5 480.2L2279.8 471L2267.1 480.2L2272 465.2L2259.3 456L2275 456ZM2325.3 437.5L2330.1 452.4L2345.8 452.4L2333.1 461.6L2338 476.6L2325.3 467.4L2312.6 476.6L2317.5 461.6L2304.8 452.4L2320.5 452.4ZM2394.7 431.4L2399.5 446.3L2415.2 446.3L2402.5 455.5L2407.4 470.5L2394.7 461.3L2382 470.5L2386.9 455.5L2374.2 446.3L2389.9 446.3ZM2451.8 425L2456.6 439.9L2472.3 439.9L2459.6 449.1L2464.5 464.1L2451.8 454.9L2439.1 464.1L2444 449.1L2431.3 439.9L2447 439.9ZM2508.9 413.7L2513.7 428.6L2529.4 428.6L2516.7 437.8L2521.6 452.8L2508.9 443.6L2496.2 452.8L2501.1 437.8L2488.4 428.6L2504.1 428.6ZM2565.7 399.1L2570.5 414L2586.2 414L2573.5 423.2L2578.4 438.2L2565.7 429L2553 438.2L2557.9 423.2L2545.2 414L2560.9 414ZM2623.3 375.7L2628.1 390.6L2643.8 390.6L2631.1 399.8L2636 414.8L2623.3 405.6L2610.6 414.8L2615.5 399.8L2602.8 390.6L2618.5 390.6ZM2678.2 330.2L2683 345.1L2698.7 345.1L2686 354.3L2690.9 369.3L2678.2 360.1L2665.5 369.3L2670.4 354.3L2657.7 345.1L2673.4 345.1ZM2694.3 308.8L2699.1 323.7L2714.8 323.7L2702.1 332.9L2707 347.9L2694.3 338.7L2681.6 347.9L2686.5 332.9L2673.8 323.7L2689.5 323.7ZM2714.9 255.4L2719.7 270.3L2735.4 270.3L2722.7 279.5L2727.6 294.5L2714.9 285.3L2702.2 294.5L2707.1 279.5L2694.4 270.3L2710.1 270.3Z" fill="#060606" stroke="#060606" stroke-width="0.8"/>
<path d="M2712.5 255.4L2695.7 287M2666.5 332.2L2660.6 339.7M2621.2 375.3L2609 382.9M2560.5 405.8L2551.9 408.8M2499.8 422.4L2495.1 423.3M2441.8 431.6L2437 432.2M2383.4 438.5L2380.2 438.8M2310.3 445.6L2307 445.9M2253.1 449.7L2193.2 453.1M2139.2 455.7L2078 458.4M2024 460.4L1964.5 462.2M1910.5 463.7L1850.2 464.9M1796.2 466.4L1735.9 468.4M1681.9 470.2L1621.7 472.3M1567.8 475.5L1507 480.6M1453.1 484L1391.3 486.4M1337.3 488.9L1235.9 494.1M1181.9 496.4L1163.5 496.9M1109.6 499.5L1049.9 503.1M996.1 507L935.7 511.9M882 517.1L805.8 525.8" stroke="#333333" stroke-width="5.0" fill="none"/>
<path d="M2725.2 213.1L2729.4 225.9L2742.8 225.9L2731.9 233.8L2736.1 246.6L2725.2 238.7L2714.3 246.6L2718.5 233.8L2707.6 225.9L2721 225.9ZM2683 292.3L2687.2 305.1L2700.6 305.1L2689.7 313L2693.9 325.8L2683 317.9L2672.1 325.8L2676.3 313L2665.4 305.1L2678.8 305.1ZM2644.1 342.6L2648.3 355.4L2661.7 355.4L2650.8 363.3L2655 376.1L2644.1 368.2L2633.2 376.1L2637.4 363.3L2626.5 355.4L2639.9 355.4ZM2586.1 378.6L2590.3 391.4L2603.7 391.4L2592.8 399.3L2597 412.1L2586.1 404.2L2575.2 412.1L2579.4 399.3L2568.5 391.4L2581.9 391.4ZM2526.3 399L2530.5 411.8L2543.9 411.8L2533 419.7L2537.2 432.5L2526.3 424.6L2515.4 432.5L2519.6 419.7L2508.7 411.8L2522.1 411.8ZM2468.6 409.7L2472.8 422.5L2486.2 422.5L2475.3 430.4L2479.5 443.2L2468.6 435.3L2457.7 443.2L2461.9 430.4L2451 422.5L2464.4 422.5ZM2410.2 417.1L2414.4 429.9L2427.8 429.9L2416.9 437.8L2421.1 450.6L2410.2 442.7L2399.3 450.6L2403.5 437.8L2392.6 429.9L2406 429.9ZM2353.4 423.2L2357.6 436L2371 436L2360.1 443.9L2364.3 456.7L2353.4 448.8L2342.5 456.7L2346.7 443.9L2335.8 436L2349.2 436ZM2337.2 424.8L2341.4 437.6L2354.8 437.6L2343.9 445.5L2348.1 458.3L2337.2 450.4L2326.3 458.3L2330.5 445.5L2319.6 437.6L2333 437.6ZM2280.1 429.7L2284.3 442.5L2297.7 442.5L2286.8 450.4L2291 463.2L2280.1 455.3L2269.2 463.2L2273.4 450.4L2262.5 442.5L2275.9 442.5ZM2166.2 436.1L2170.4 448.9L2183.8 448.9L2172.9 456.8L2177.1 469.6L2166.2 461.7L2155.3 469.6L2159.5 456.8L2148.6 448.9L2162 448.9ZM2051 441L2055.2 453.8L2068.6 453.8L2057.7 461.7L2061.9 474.5L2051 466.6L2040.1 474.5L2044.3 461.7L2033.4 453.8L2046.8 453.8ZM1937.5 444.6L1941.7 457.4L1955.1 457.4L1944.2 465.3L1948.4 478.1L1937.5 470.2L1926.6 478.1L1930.8 465.3L1919.9 457.4L1933.3 457.4ZM1823.2 447L1827.4 459.8L1840.8 459.8L1829.9 467.7L1834.1 480.5L1823.2 472.6L1812.3 480.5L1816.5 467.7L1805.6 459.8L1819 459.8ZM1708.9 450.8L1713.1 463.6L1726.5 463.6L1715.6 471.5L1719.8 484.3L1708.9 476.4L1698 484.3L1702.2 471.5L1691.3 463.6L1704.7 463.6ZM1594.7 454.7L1598.9 467.5L1612.3 467.5L1601.4 475.4L1605.6 488.2L1594.7 480.3L1583.8 488.2L1588 475.4L1577.1 467.5L1590.5 467.5ZM1480.1 464.4L1484.3 477.2L1497.7 477.2L1486.8 485.1L1491 497.9L1480.1 490L1469.2 497.9L1473.4 485.1L1462.5 477.2L1475.9 477.2ZM1364.3 469L1368.5 481.8L1381.9 481.8L1371 489.7L1375.2 502.5L1364.3 494.6L1353.4 502.5L1357.6 489.7L1346.7 481.8L1360.1 481.8ZM1208.9 477L1213.1 489.8L1226.5 489.8L1215.6 497.7L1219.8 510.5L1208.9 502.6L1198 510.5L1202.2 497.7L1191.3 489.8L1204.7 489.8ZM1136.5 479.3L1140.7 492.1L1154.1 492.1L1143.2 500L1147.4 512.8L1136.5 504.9L1125.6 512.8L1129.8 500L1118.9 492.1L1132.3 492.1ZM1023 486.3L1027.2 499.1L1040.6 499.1L1029.7 507L1033.9 519.8L1023 511.9L1012.1 519.8L1016.3 507L1005.4 499.1L1018.8 499.1ZM908.8 495.6L913 508.4L926.4 508.4L915.5 516.3L919.7 529.1L908.8 521.2L897.9 529.1L902.1 516.3L891.2 508.4L904.6 508.4ZM779 510.3L783.2 523.1L796.6 523.1L785.7 531L789.9 543.8L779 535.9L768.1 543.8L772.3 531L761.4 523.1L774.8 523.1Z" fill="#f7f7f7" stroke="#333333" stroke-width="2.7"/>
</g>
<path d="M451.7 6.5v33.7M451.7 1866.6v33.7M680.4 6.5v16.6M680.4 1866.6v16.6M909.1 6.5v33.7M909.1 1866.6v33.7M1137.9 6.5v16.6M1137.9 1866.6v16.6M1366.6 6.5v33.7M1366.6 1866.6v33.7M1595.3 6.5v16.6M1595.3 1866.6v16.6M1824 6.5v33.7M1824 1866.6v33.7M2052.7 6.5v16.6M2052.7 1866.6v16.6M2281.5 6.5v33.7M2281.5 1866.6v33.7M2510.2 6.5v16.6M2510.2 1866.6v16.6M2738.9 6.5v33.7M2738.9 1866.6v33.7M2967.6 1866.6v16.6M337.5 1866.6h-33.7M337.5 1697.5h-16.6M337.5 1528.4h-33.7M337.5 1359.3h-16.6M337.5 1190.2h-33.7M337.5 1021.1h-16.6M337.5 852h-33.7M337.5 682.9h-16.6M337.5 513.8h-33.7M337.5 344.7h-16.6M337.5 175.6h-33.7M337.5 6.5h-16.6" stroke="#060606" stroke-width="7" stroke-linecap="round" fill="none"/>
<path d="M337.5 6.5H2967.5M337.5 1866.6H2967.5M337.5 6.5V1866.6" stroke="#060606" stroke-width="7" stroke-linecap="butt" fill="none"/>
<path d="M2967.5 1866.6h33.7M2967.5 1697.5h16.6M2967.5 1528.4h33.7M2967.5 1359.3h16.6M2967.5 1190.2h33.7M2967.5 1021.1h16.6M2967.5 852h33.7M2967.5 682.9h16.6M2967.5 513.8h33.7M2967.5 344.7h16.6M2967.5 175.6h33.7M2967.5 6.5h16.6M2967.5 6.5V1866.6" stroke="#333333" stroke-width="7" stroke-linecap="round" fill="none"/>
<g font-family="Liberation Sans, sans-serif" font-size="76" fill="#060606">
<text transform="translate(279.5,1886.1) scale(0.975,1)" text-anchor="end">0</text>
<path d="M763 0H583V1147Q518 1085 412.5 1023Q307 961 223 930V1104Q374 1175 487 1276Q600 1377 647 1472H763Z" fill="#060606" transform="translate(195.9,1547.6) scale(0.03618,-0.03711)"/>
<text transform="translate(279.5,1547.9) scale(0.975,1)" text-anchor="end">0</text>
<text transform="translate(279.5,1209.7) scale(0.975,1)" text-anchor="end">20</text>
<text transform="translate(279.5,871.5) scale(0.975,1)" text-anchor="end">30</text>
<text transform="translate(279.5,533.3) scale(0.975,1)" text-anchor="end">40</text>
<text transform="translate(279.5,195.1) scale(0.975,1)" text-anchor="end">50</text>
<text transform="translate(451.2,1981.5) scale(0.98,1)" text-anchor="middle">0.0</text>
<text transform="translate(908.6,1981.5) scale(0.98,1)" text-anchor="middle">0.2</text>
<text transform="translate(1366.1,1981.5) scale(0.98,1)" text-anchor="middle">0.4</text>
<text transform="translate(1823.5,1981.5) scale(0.98,1)" text-anchor="middle">0.6</text>
<text transform="translate(2281,1981.5) scale(0.98,1)" text-anchor="middle">0.8</text>
<path d="M763 0H583V1147Q518 1085 412.5 1023Q307 961 223 930V1104Q374 1175 487 1276Q600 1377 647 1472H763Z" fill="#060606" transform="translate(2686.6,1981.5) scale(0.03637,-0.03711)"/>
<text transform="translate(2728.1,1981.5) scale(0.98,1)">.0</text>
</g>
<g font-family="Liberation Sans, sans-serif" font-size="76" fill="#333333">
<text transform="translate(3024.5,1886.1) scale(0.975,1)">0</text>
<path d="M763 0H583V1147Q518 1085 412.5 1023Q307 961 223 930V1104Q374 1175 487 1276Q600 1377 647 1472H763Z" fill="#333333" transform="translate(3024.5,1547.9) scale(0.03618,-0.03711)"/>
<text transform="translate(3065.7,1547.9) scale(0.975,1)">0</text>
<text transform="translate(3024.5,1209.7) scale(0.975,1)">20</text>
<text transform="translate(3024.5,871.5) scale(0.975,1)">30</text>
<text transform="translate(3024.5,533.3) scale(0.975,1)">40</text>
<text transform="translate(3024.5,195.1) scale(0.975,1)">50</text>
</g>
<g font-family="Liberation Sans, sans-serif" font-size="90.5" fill="#060606">
<text x="613.6" y="483">f</text>
<text x="613.5" y="671.5">e</text>
<text x="613.5" y="991.5">d</text>
<text x="613.5" y="1299">c</text>
<text x="615" y="1512.5">b</text>
<text x="614.3" y="1798.5">a</text>
</g>
<g font-family="Liberation Serif, serif" font-size="91" fill="#060606">
<text x="1276.5" y="2106.7">Relative pressure(p/p<tspan font-size="55" dy="-45.7">0</tspan><tspan dy="45.7">)</tspan></text>
<text transform="translate(102.6,1564.5) rotate(-90)">Quantity adsorbed(cm<tspan font-size="55" dy="-45.7">3</tspan><tspan dy="45.7">/g STP)</tspan></text>
</g>
</svg>
</body></html>
